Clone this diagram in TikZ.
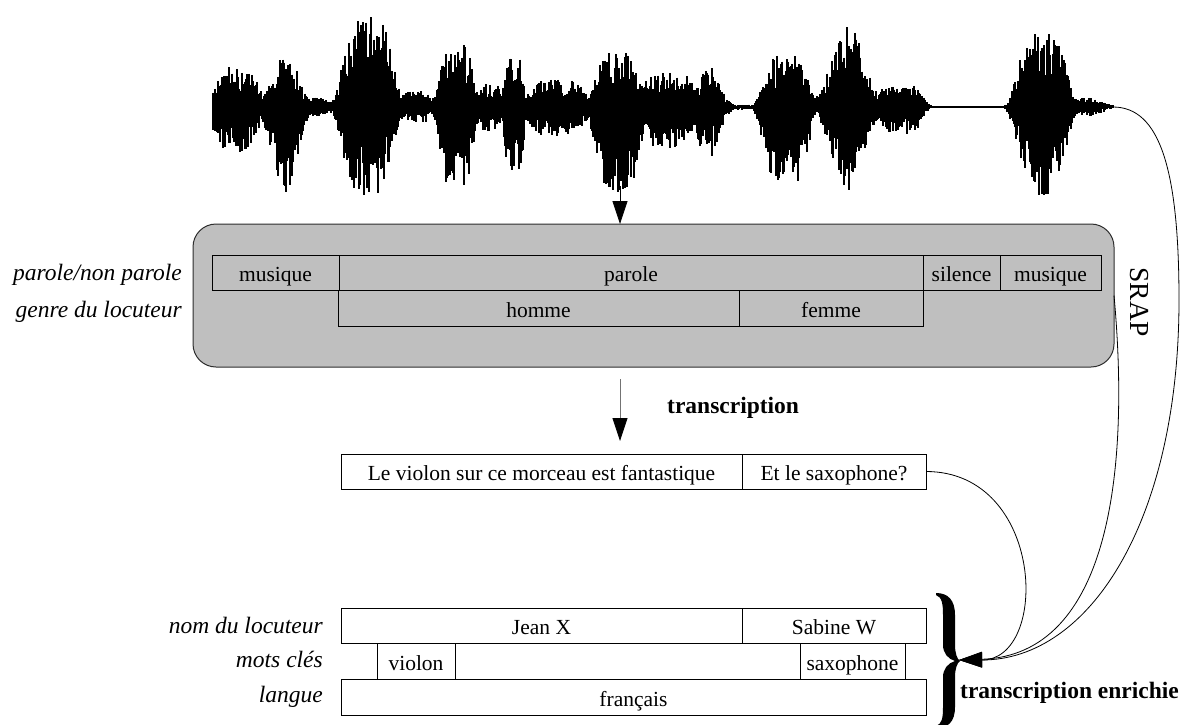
\documentclass[tikz,border=0pt]{standalone}
\usepackage{fontspec}
\setmainfont{Liberation Serif}
\usetikzlibrary{arrows.meta}
\definecolor{boxgray}{RGB}{191,191,191}
\definecolor{edgegray}{RGB}{45,45,45}
\newcommand\cellfont{\fontsize{21.5}{24}\selectfont}
\newcommand\lblfont{\fontsize{23.5}{26}\selectfont\itshape}
\newcommand\titlefont{\fontsize{23.5}{26}\selectfont\bfseries}
\newcommand\srapfont{\fontsize{27.5}{30}\selectfont}
\begin{document}
\begin{tikzpicture}[x=1pt,y=-1pt,
  cell/.style={draw=black, line width=1pt, rectangle, inner sep=0pt, outer sep=0pt,
    font=\cellfont, text height=18.5pt, text depth=0pt},
  lbl/.style={anchor=east, inner sep=0pt, font=\lblfont, text height=18.5pt, text depth=0pt},
  title/.style={anchor=west, inner sep=0pt, font=\titlefont},
  wave/.style={line width=1.2pt, black},
  link/.style={line width=0.8pt, -{Triangle[length=23pt,width=15pt]}},
  flow/.style={line width=0.9pt, draw=black!55, -{Triangle[length=23pt,width=15pt,color=black]}}]
\useasboundingbox (0,0) rectangle (1181,724);

% ---------- speech waveform ----------
% bursts: centre / half width / upper amplitude / lower amplitude / envelope power
\pgfmathsetseed{5}
\draw[line width=1.5pt] (213,107) -- (1113,107);
\foreach \bc/\bw/\ba/\bb/\bp in {
  236/26/40/45/4, 285/17/62/86/2, 368/28/90/88/4, 457/19/64/86/4,
  514/11/52/68/4, 618/25/55/86/4, 708/15/44/53/2, 786/25/52/78/4,
  848/22/84/86/2, 900/24/25/30/4, 1042/27/74/88/4,
  318/18/10/10/2, 416/20/16/16/4, 490/13/24/26/4, 557/32/28/30/4,
  668/30/36/42/4, 742/14/3/3/2, 1085/22/10/10/2}{
  \pgfmathtruncatemacro\xa{max(213,\bc-2.6*\bw)}
  \pgfmathtruncatemacro\xb{min(1113,\bc+2.6*\bw)}
  \foreach \xx in {\xa,...,\xb}{
    \pgfmathsetmacro\wr{(\xx-\bc)/\bw}
    \pgfmathsetmacro\wq{\wr*\wr}
    \ifnum\bp=4 \pgfmathsetmacro\wq{\wq*\wq}\fi
    \pgfmathsetmacro\wg{exp(-min(\wq,9))}
    \pgfmathsetmacro\wup{\ba*\wg*(0.35+0.65*rnd)}
    \pgfmathsetmacro\wdn{\bb*\wg*(0.35+0.65*rnd)}
    \draw[wave] (\xx,107-\wup) -- (\xx,107+\wdn);
  }
}
\coordinate (wfoot) at (620,186);
\coordinate (wend) at (1113,107);

% ---------- segmentation block ----------
\node[draw=edgegray, fill=boxgray, line width=1pt, rounded corners=23pt,
      minimum width=921pt, minimum height=143pt, inner sep=0pt, outer sep=0pt]
      (srap) at (653.5,295.5) {};
\node[cell, minimum width=127pt, minimum height=35pt] (pn1) at (275.5,272.5) {musique};
\node[cell, minimum width=584pt, minimum height=35pt] (pn2) at (631,272.5) {parole};
\node[cell, minimum width=77pt,  minimum height=35pt] (pn3) at (961.5,272.5) {silence};
\node[cell, minimum width=101pt, minimum height=35pt] (pn4) at (1050.5,272.5) {musique};
\node[cell, minimum width=401pt, minimum height=36pt] (g1) at (538.5,308) {homme};
\node[cell, minimum width=184pt, minimum height=36pt] (g2) at (831,308) {femme};
\node[lbl] (lpn) at (182,271) {parole/non parole};
\node[lbl] (lg) at (182,308) {genre du locuteur};
\node[rotate=-90, font=\srapfont, inner sep=0pt] (srapname) at (1139,302) {SRAP};

\draw[link] (wfoot) -- (wfoot |- srap.north);

% ---------- transcription ----------
\coordinate (tA) at (620,379);
\coordinate (tB) at (620,441);
\draw[flow] (tA) -- (tB);
\node[title] (ttr) at (667,408) {transcription};
\node[cell, minimum width=401pt, minimum height=35pt] (t1) at (541.5,471.5) {Le violon sur ce morceau est fantastique};
\node[cell, minimum width=184pt, minimum height=35pt] (t2) at (834,471.5) {Et le saxophone?};

% ---------- enriched transcription ----------
\node[cell, minimum width=401pt, minimum height=35pt] (n1) at (541.5,625.5) {Jean X};
\node[cell, minimum width=184pt, minimum height=35pt] (n2) at (834,625.5) {Sabine W};
\node[cell, minimum width=78pt,  minimum height=36pt] (k1) at (416,661) {violon};
\node[cell, minimum width=105pt, minimum height=36pt] (k2) at (852.5,661) {saxophone};
\node[cell, minimum width=585pt, minimum height=36pt] (l1) at (633.5,697) {français};
\node[lbl] (ln) at (323,624) {nom du locuteur};
\node[lbl] (lk) at (323,658) {mots clés};
\node[lbl] (ll) at (323,693) {langue};

% right brace
\fill (936,593) .. controls (948,593) and (955,600) .. (955,615)
  -- (955,645) .. controls (955,653) and (957,659) .. (960,661)
  .. controls (957,663) and (955,669) .. (955,677)
  -- (955,707) .. controls (955,722) and (948,728) .. (936,728)
  -- (936,726) .. controls (942,724) and (943,718) .. (943,707)
  -- (943,677) .. controls (943,669) and (948,663) .. (955,661)
  .. controls (948,659) and (943,653) .. (943,645)
  -- (943,615) .. controls (943,604) and (942,597) .. (936,595) -- cycle;
\node[title] (tenr) at (960,693) {transcription enrichie};

% ---------- merging links ----------
\coordinate (hub) at (959,660);
\draw[link] (wend) .. controls (1160,107) and (1179,170) .. (1179,300)
  .. controls (1179,520) and (1090,660) .. (hub);
\draw[link] (srap.east) .. controls (1130,470) and (1110,655) .. (hub);
\draw[link] (t2.east) .. controls (1045,471.5) and (1050,660) .. (hub);
\end{tikzpicture}
\end{document}
